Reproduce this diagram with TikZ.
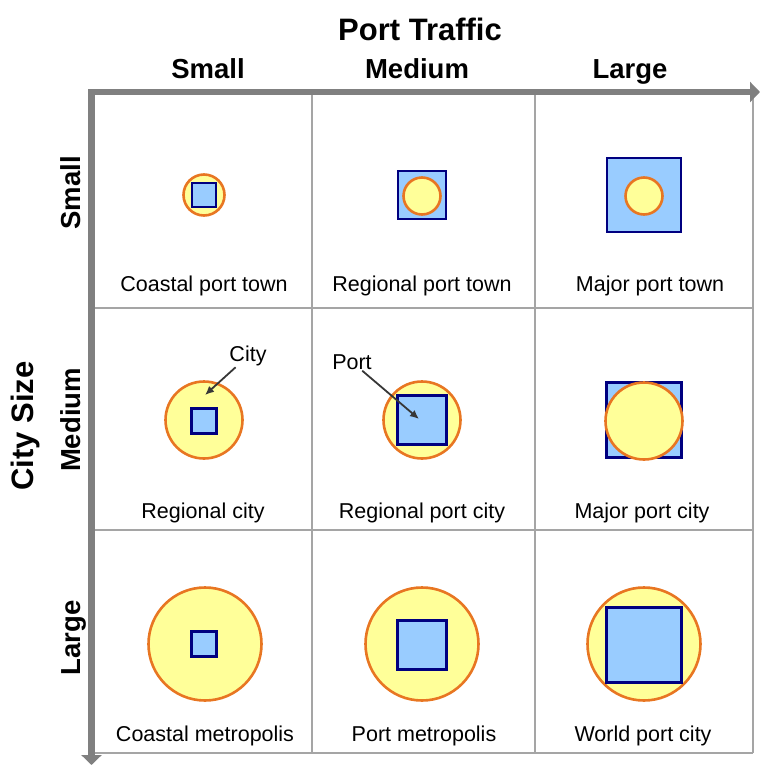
\documentclass[tikz,border=0pt]{standalone}
\usepackage{fontspec}
\setmainfont{Liberation Sans}
\usetikzlibrary{arrows.meta}
\definecolor{axisgray}{RGB}{128,128,128}
\definecolor{gridgray}{RGB}{165,165,165}
\definecolor{ringorange}{RGB}{232,118,34}
\definecolor{cityyellow}{RGB}{255,255,153}
\definecolor{portblue}{RGB}{153,204,255}
\definecolor{portnavy}{RGB}{0,0,128}
\definecolor{pointergray}{RGB}{55,55,55}
\begin{document}
\begin{tikzpicture}[x=1pt,y=-1pt,
  city/.style={circle,draw=ringorange,fill=cityyellow,line width=2.6pt,inner sep=0pt,minimum size=#1},
  port/.style={rectangle,draw=portnavy,fill=portblue,line width=2.6pt,inner sep=0pt,minimum size=#1},
  celllabel/.style={font=\fontsize{21.5}{25}\selectfont,anchor=base,inner sep=0pt},
  header/.style={font=\bfseries\fontsize{27.5}{32}\selectfont,anchor=base,inner sep=0pt},
  bigtitle/.style={font=\bfseries\fontsize{31}{36}\selectfont,anchor=base,inner sep=0pt},
  axisline/.style={draw=axisgray,line width=6.5pt,{Triangle[length=10pt,width=20pt]}-{Triangle[length=10pt,width=20pt]}},
  gridline/.style={draw=gridgray,line width=1.8pt},
  pointer/.style={draw=pointergray,line width=1.8pt,-{Latex[length=9pt,width=8pt]}},
  pointlabel/.style={font=\fontsize{21.5}{25}\selectfont,inner sep=1pt}
]
\useasboundingbox (0,0) rectangle (761,766);
% grid
\draw[gridline] (312,92) -- (312,753);
\draw[gridline] (535,92) -- (535,753);
\draw[gridline] (753,92) -- (753,753);
\draw[gridline] (91.5,308) -- (753,308);
\draw[gridline] (91.5,530) -- (753,530);
\draw[gridline] (91.5,753) -- (753,753);
% axes
\coordinate (origin) at (91.5,92);
\coordinate (xend) at (760,92);
\coordinate (yend) at (91.5,765);
\draw[axisline] (yend) -- (origin) -- (xend);
% titles
\node[bigtitle] (pt) at (420,40) {Port Traffic};
\node[header] (hs) at (208,78) {Small};
\node[header] (hm) at (417,78) {Medium};
\node[header] (hl) at (630,78) {Large};
\node[bigtitle,rotate=90] (cs) at (33,426) {City Size};
\node[header,rotate=90] (vs) at (80,193) {Small};
\node[header,rotate=90] (vm) at (80,420) {Medium};
\node[header,rotate=90] (vl) at (80,638) {Large};
% row 1
\node[city=41] (c11) at (204,195) {};
\node[port=24] (p11) at (204,195) {};
\node[port=48] (p12) at (422,195) {};
\node[city=37] (c12) at (422,196) {};
\node[port=74] (p13) at (644,195) {};
\node[city=37] (c13) at (644,196) {};
% row 2
\node[city=77] (c21) at (204,420) {};
\node[port=25] (p21) at (204,421) {};
\node[city=77] (c22) at (422,420) {};
\node[port=49] (p22) at (422,420) {};
\node[port=75] (p23) at (644,420) {};
\node[city=77] (c23) at (644,421) {};
% row 3
\node[city=113] (c31) at (205,644) {};
\node[port=25] (p31) at (204,644) {};
\node[city=113] (c32) at (422,644) {};
\node[port=49] (p32) at (422,645) {};
\node[city=113] (c33) at (644,644) {};
\node[port=75] (p33) at (644,645) {};
% cell labels
\node[celllabel] (l11) at (204,291) {Coastal port town};
\node[celllabel] (l12) at (422,291) {Regional port town};
\node[celllabel] (l13) at (650,291) {Major port town};
\node[celllabel] (l21) at (203,518) {Regional city};
\node[celllabel] (l22) at (422,518) {Regional port city};
\node[celllabel] (l23) at (642,518) {Major port city};
\node[celllabel] (l31) at (205,741) {Coastal metropolis};
\node[celllabel] (l32) at (424,741) {Port metropolis};
\node[celllabel] (l33) at (643,741) {World port city};
% pointers
\node[pointlabel] (citylbl) at (248,356) {City};
\coordinate (citytip) at (205,395);
\draw[pointer] (citylbl) -- (citytip);
\node[pointlabel] (portlbl) at (352,362) {Port};
\coordinate (porttip) at (419,419);
\draw[pointer] (portlbl) -- (porttip);
\end{tikzpicture}
\end{document}
